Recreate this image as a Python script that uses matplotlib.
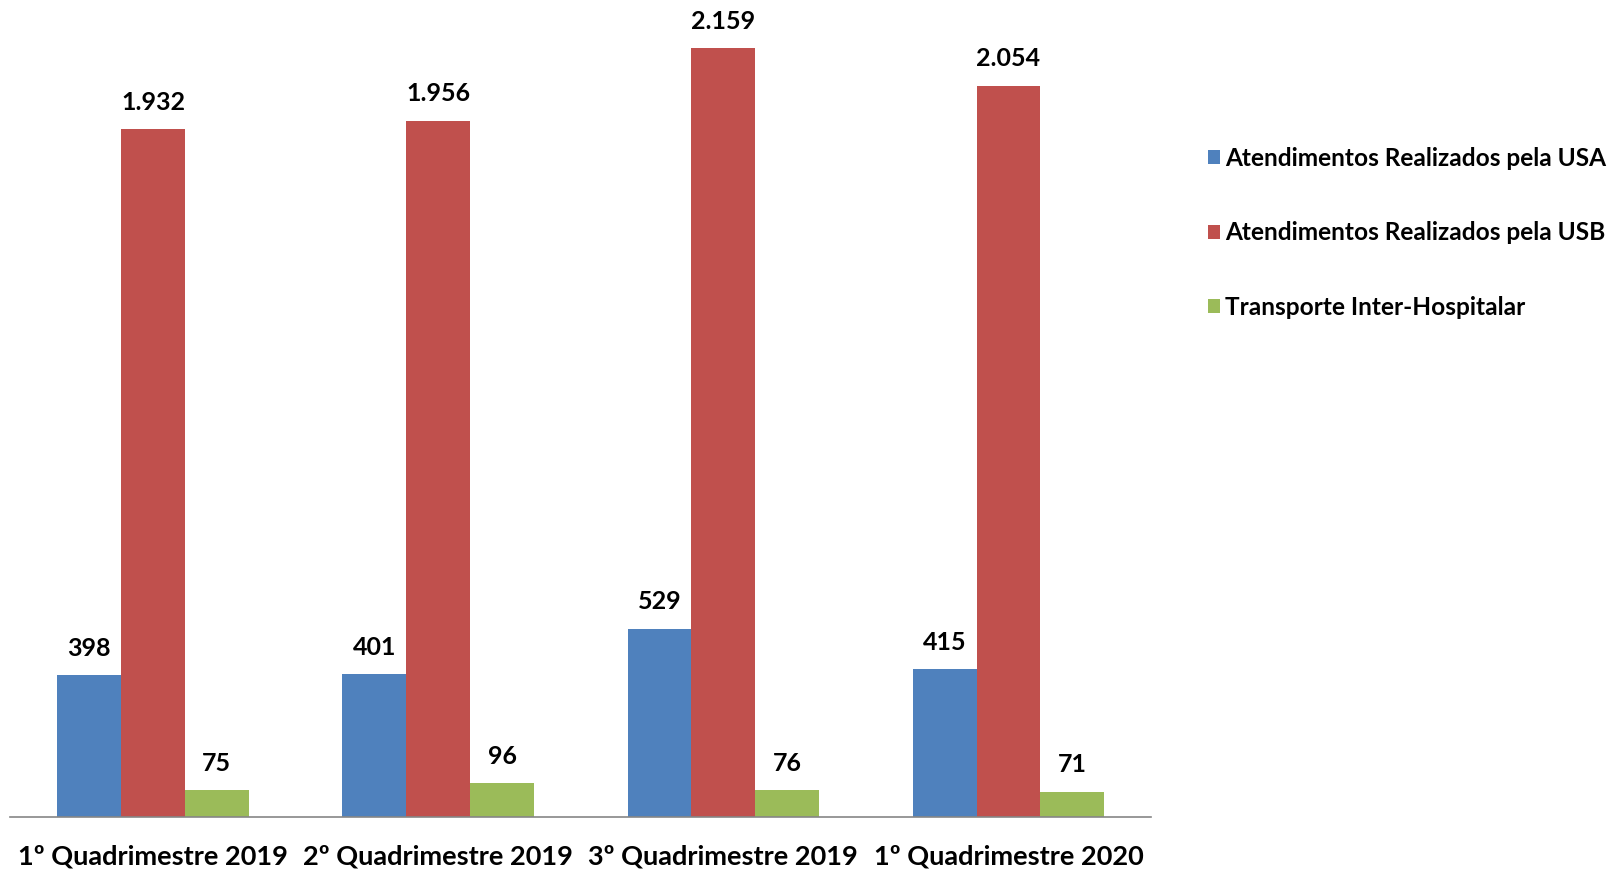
import numpy as np
import matplotlib
matplotlib.use("Agg", force=True)
import matplotlib.pyplot as plt

categorias = ["1º Quadrimestre 2019", "2º Quadrimestre 2019",
              "3º Quadrimestre 2019", "1º Quadrimestre 2020"]
series = ["Atendimentos Realizados pela USA",
          "Atendimentos Realizados pela USB",
          "Transporte Inter-Hospitalar"]
usa = [398, 401, 529, 415]
usb = [1932, 1956, 2159, 2054]
transp = [75, 96, 76, 71]
cores = ["#4F81BD", "#C0504D", "#9BBB59"]

plt.rcParams['font.family'] = ['Lato', 'DejaVu Sans']
plt.rcParams['font.weight'] = 'bold'

fig = plt.figure(figsize=(16.19, 8.69), dpi=100)
ax = fig.add_axes([0.0064, 0.0598, 0.7046, 0.9284])

x = np.arange(len(categorias))
w = 0.224
for i, (vals, nome, cor) in enumerate(zip([usa, usb, transp], series, cores)):
    bars = ax.bar(x + (i - 1) * w, vals, width=w, color=cor, label=nome)
    for b, v in zip(bars, vals):
        txt = f"{v:,}".replace(",", ".")
        ax.annotate(txt, (b.get_x() + b.get_width() / 2, v),
                    xytext=(0, 11), textcoords="offset points",
                    ha="center", va="bottom", fontsize=18, fontweight="bold")

ax.set_xlim(-0.5, len(categorias) - 0.5)
ax.set_ylim(0, 2266)
ax.set_xticks(x)
ax.set_xticklabels(categorias, fontsize=19.5, fontweight="bold")
ax.tick_params(axis="x", length=0, pad=20)
ax.set_yticks([])
for s in ["top", "right", "left"]:
    ax.spines[s].set_visible(False)
ax.spines["bottom"].set_color("#868686")
ax.spines["bottom"].set_linewidth(1.2)

fig.legend(loc="upper left", bbox_to_anchor=(0.7325, 0.856), frameon=False,
           handlelength=0.5, handleheight=0.5,
           handletextpad=0.2, labelspacing=2.1,
           prop={"weight": "bold", "size": 17.6})

fig.savefig("out.png", dpi=100)
